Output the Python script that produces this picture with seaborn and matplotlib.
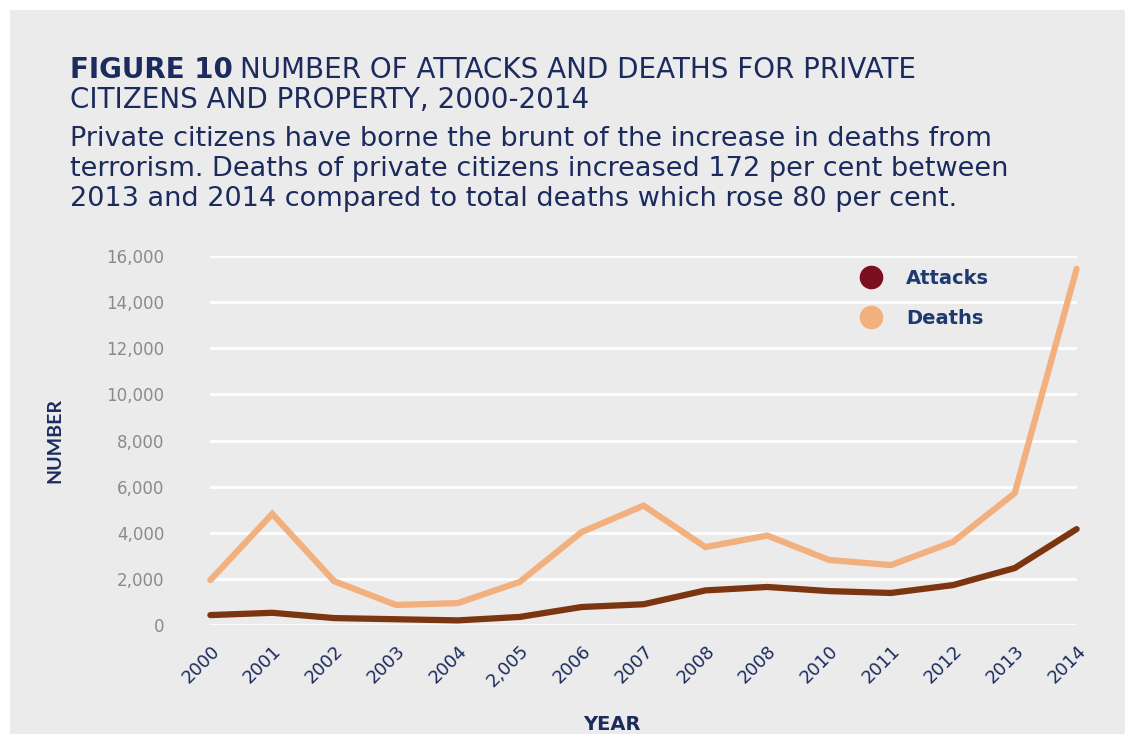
import matplotlib
matplotlib.use("Agg")
import matplotlib.pyplot as plt
from matplotlib.lines import Line2D
from matplotlib.patches import Rectangle
from matplotlib.ticker import FuncFormatter
import numpy as np
import pandas as pd
import seaborn as sns

# values
year_labels = ["2000", "2001", "2002", "2003", "2004", "2,005", "2006", "2007",
               "2008", "2008", "2010", "2011", "2012", "2013", "2014"]
attacks = [430, 530, 300, 250, 200, 350, 780, 900, 1500, 1650, 1470, 1390, 1730, 2470, 4160]
deaths = [1950, 4820, 1900, 870, 950, 1870, 4030, 5180, 3380, 3880, 2820, 2600, 3600, 5720, 15450]

NAVY = "#1c2b5e"
GREY_TXT = "#8a8a8a"
BG = "#ebebeb"
C_ATT = "#7b3510"
C_DEA = "#f3b07f"
C_ATT_DOT = "#7a0f1f"

pos = np.arange(len(year_labels))
df = pd.DataFrame({
    "pos": np.concatenate([pos, pos]),
    "value": attacks + deaths,
    "series": ["Attacks"] * len(pos) + ["Deaths"] * len(pos),
})

sns.set_style("white")
plt.rcParams["font.family"] = ["DejaVu Sans"]
lato = ["Lato", "DejaVu Sans"]

fig = plt.figure(figsize=(11.25, 7.34), dpi=100)
fig.patch.set_facecolor("white")
fig.patches.append(Rectangle((10 / 1125, 0), 1, 1 - 10 / 734, transform=fig.transFigure,
                             facecolor=BG, edgecolor="none", zorder=-10))

ax = fig.add_axes([0.187, 0.1485, 0.770, 0.5025])
ax.set_facecolor(BG)

sns.lineplot(data=df, x="pos", y="value", hue="series",
             palette={"Attacks": C_ATT, "Deaths": C_DEA},
             hue_order=["Deaths", "Attacks"], linewidth=4.5, ax=ax,
             legend=False, solid_capstyle="round", solid_joinstyle="miter")
for ln in ax.get_lines():
    ln.set_clip_on(False)

ax.set_xlim(0, 14)
ax.set_ylim(0, 16000)
ax.set_yticks(np.arange(0, 16001, 2000))
ax.yaxis.set_major_formatter(FuncFormatter(lambda v, p: f"{int(v):,}"))
ax.grid(axis="y", color="white", linewidth=2)
ax.set_axisbelow(True)
for s in ax.spines.values():
    s.set_visible(False)

ax.set_xticks(pos)
ax.set_xticklabels(year_labels, rotation=45, ha="right", rotation_mode="anchor",
                   color=NAVY, fontsize=13)
ax.tick_params(axis="x", length=0, pad=12)
ax.tick_params(axis="y", length=0, pad=33, labelcolor=GREY_TXT, labelsize=12)

ax.set_xlabel("YEAR", color=NAVY, fontsize=14, fontweight="bold")
ax.xaxis.set_label_coords(0.464, -0.245)
ax.set_ylabel("NUMBER", color=NAVY, fontsize=14, fontweight="bold", family=lato)
ax.yaxis.set_label_coords(-0.17, 0.5)

handles = [
    Line2D([], [], marker="o", linestyle="none", markersize=16,
           markerfacecolor=C_ATT_DOT, markeredgecolor=C_ATT_DOT, label="Attacks"),
    Line2D([], [], marker="o", linestyle="none", markersize=16,
           markerfacecolor=C_DEA, markeredgecolor=C_DEA, label="Deaths"),
]
leg = ax.legend(handles=handles, loc="upper left", bbox_to_anchor=(0.72, 1.012),
                frameon=False, labelspacing=1.05, handletextpad=0.8,
                prop={"weight": "bold", "size": 14})
for t in leg.get_texts():
    t.set_color("#1f3a70")

# header text
t1 = fig.text(70 / 1125, 1 - 78 / 734, "FIGURE 10", color=NAVY, fontsize=20,
              fontweight="bold", va="baseline")
bb = t1.get_window_extent(renderer=fig.canvas.get_renderer())
fig.text((bb.x1 + 7) / 1125, 1 - 78 / 734, "NUMBER OF ATTACKS AND DEATHS FOR PRIVATE",
         color=NAVY, fontsize=20, va="baseline")
fig.text(70 / 1125, 1 - 108 / 734, "CITIZENS AND PROPERTY, 2000-2014",
         color=NAVY, fontsize=20, va="baseline")
subtitle = ["Private citizens have borne the brunt of the increase in deaths from",
            "terrorism. Deaths of private citizens increased 172 per cent between",
            "2013 and 2014 compared to total deaths which rose 80 per cent."]
for i, line in enumerate(subtitle):
    fig.text(70 / 1125, 1 - (146 + 30 * i) / 734, line, color=NAVY,
             fontsize=19.5, va="baseline")

fig.savefig("out.png", dpi=100, facecolor=fig.get_facecolor())
